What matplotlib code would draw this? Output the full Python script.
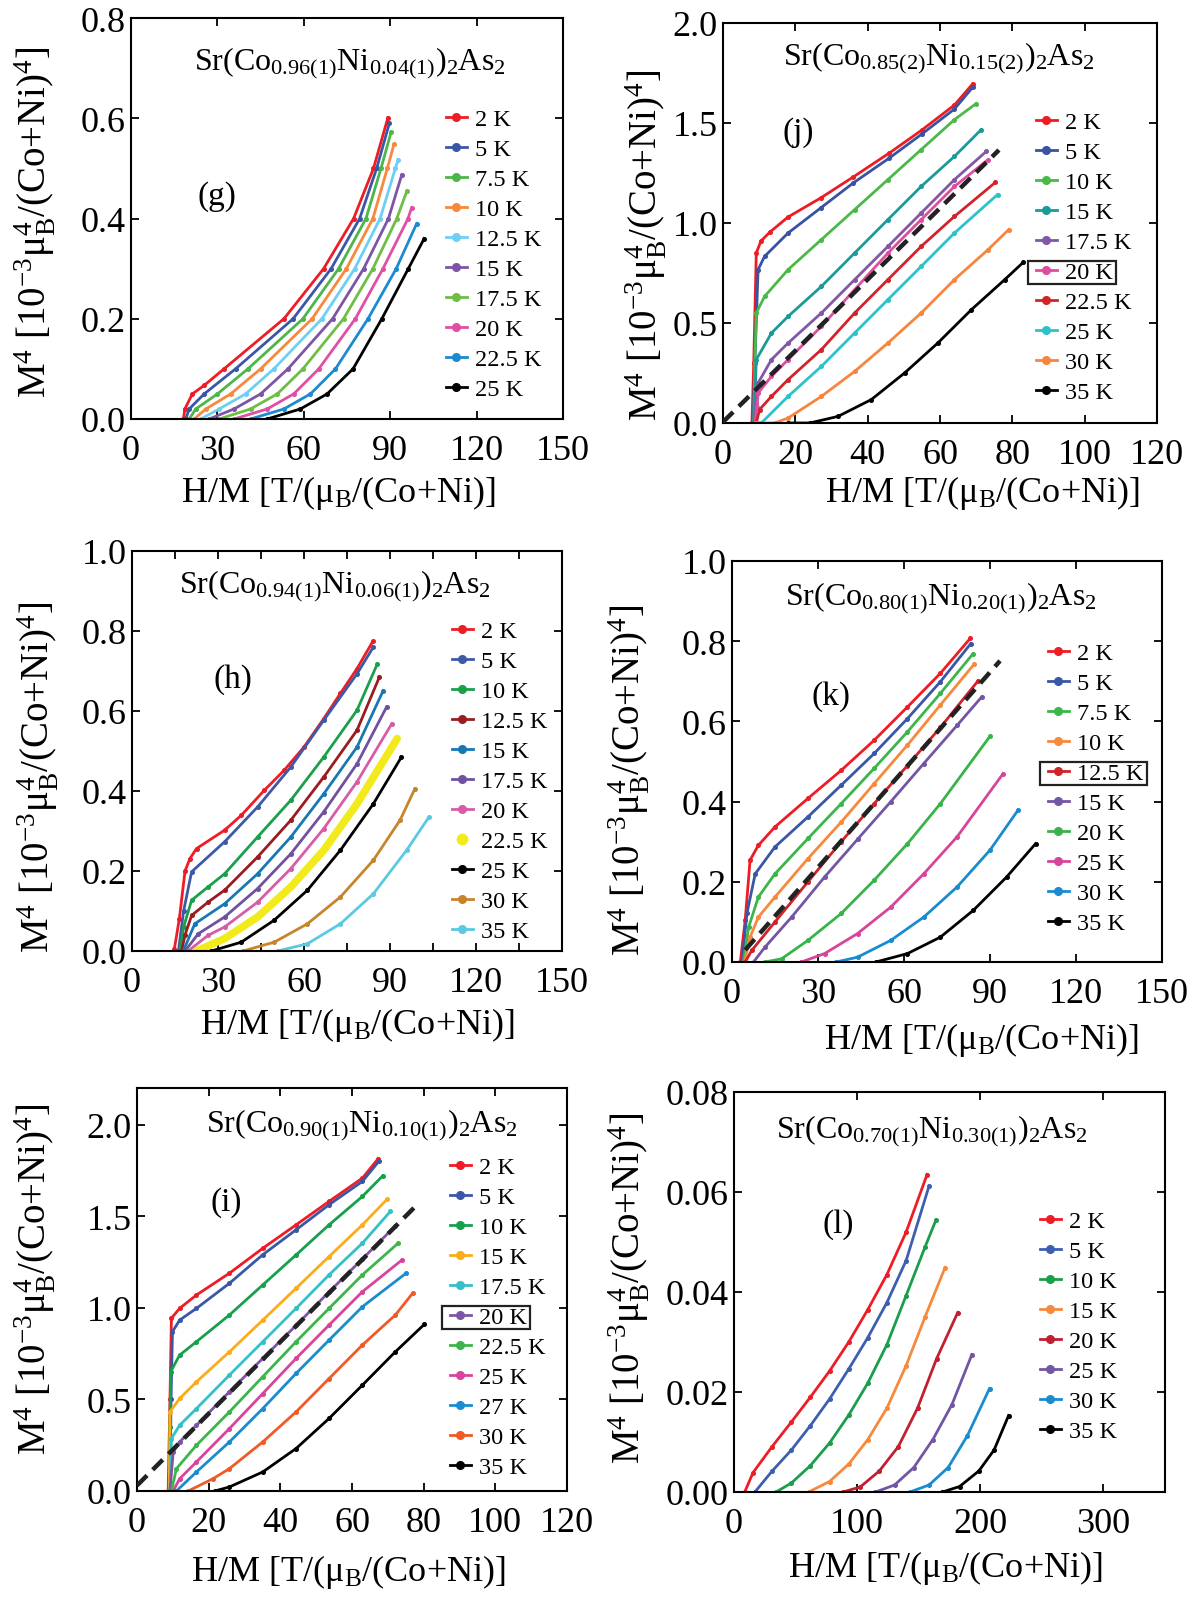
import matplotlib
matplotlib.use("Agg")
import matplotlib.pyplot as plt
from matplotlib.lines import Line2D
from matplotlib.patches import Rectangle
from matplotlib.ticker import MultipleLocator

plt.rcParams.update({
    "font.family": "Liberation Serif",
    "mathtext.fontset": "custom",
    "mathtext.rm": "Liberation Serif",
    "mathtext.it": "Liberation Serif:italic",
    "mathtext.bf": "Liberation Serif:bold",
})

# ---------------- data ----------------
# (g) x = 0.04
g_labels = ["2 K", "5 K", "7.5 K", "10 K", "12.5 K", "15 K", "17.5 K", "20 K", "22.5 K", "25 K"]
g_colors = ["#ee1c25", "#3a57a7", "#4cb648", "#f6893c", "#6dcff6", "#7d55a5",
            "#6ebe45", "#e14fa4", "#1b8ad0", "#000000"]
g_x = [[18.2, 18.7, 21.3, 25.4, 32.3, 53.1, 66.9, 77.3, 84.2, 89.2],
       [19.0, 20.2, 25.4, 36.3, 56.3, 69.5, 79.4, 85.3, 89.7],
       [20.2, 22.5, 30.0, 40.6, 59.7, 72.1, 81.6, 86.8, 90.3],
       [21.9, 26.0, 34.6, 45.0, 62.9, 74.8, 84.0, 89.0, 91.3],
       [24.2, 30.6, 39.8, 49.6, 66.3, 77.7, 86.5, 91.8, 92.7],
       [27.1, 35.8, 45.0, 54.5, 70.0, 80.8, 89.4, 94.0],
       [30.6, 41.5, 50.8, 59.7, 73.8, 84.0, 92.3, 95.8],
       [35.8, 47.3, 56.5, 65.2, 77.9, 87.5, 96.2, 97.4],
       [41.5, 53.1, 62.3, 71.0, 82.3, 92.1, 99.2],
       [47.3, 58.8, 68.1, 77.1, 87.1, 96.3, 101.8]]
g_y = [[0, .02, .05, .067, .1, .2, .3, .4, .5, .601],
       [0, .02, .05, .1, .2, .3, .4, .5, .59],
       [0, .02, .05, .1, .2, .3, .4, .5, .572],
       [0, .02, .05, .1, .2, .3, .4, .5, .548],
       [0, .02, .05, .1, .2, .3, .4, .5, .517],
       [0, .02, .05, .1, .2, .3, .4, .487],
       [0, .02, .05, .1, .2, .3, .4, .455],
       [0, .02, .05, .1, .2, .3, .4, .421],
       [0, .02, .05, .1, .2, .3, .39],
       [0, .02, .05, .1, .2, .3, .36]]

# (j) x = 0.15
j_labels = ["2 K", "5 K", "10 K", "15 K", "17.5 K", "20 K", "22.5 K", "25 K", "30 K", "35 K"]
j_colors = ["#ed1c24", "#3852a4", "#4ab948", "#1a9a99", "#8058a5", "#dd4ea0",
            "#d2232a", "#2dc1c9", "#f6853e", "#000000"]
j_x = [[8.0, 8.5, 9.2, 10.5, 13.0, 18.0, 27.0, 36.0, 46.0, 55.0, 64.0, 69.0],
       [8.3, 8.8, 9.7, 11.5, 18.0, 27.0, 36.0, 46.0, 55.0, 64.0, 69.1],
       [8.5, 8.8, 9.2, 11.5, 18.0, 27.2, 36.4, 45.6, 54.8, 64.0, 70.0],
       [8.6, 8.9, 9.2, 13.4, 18.0, 27.2, 36.4, 45.6, 54.8, 64.0, 71.4],
       [8.7, 9.2, 9.7, 13.4, 18.0, 27.2, 36.4, 45.6, 54.8, 64.0, 72.8],
       [8.8, 9.4, 9.7, 13.4, 18.0, 27.2, 36.4, 45.6, 54.8, 64.0, 73.3],
       [9.2, 10.1, 13.4, 18.0, 27.2, 36.4, 45.6, 54.8, 64.0, 75.3],
       [9.5, 10.6, 18.0, 27.2, 36.4, 45.6, 54.8, 64.0, 75.9],
       [9.0, 14.3, 18.0, 27.2, 36.4, 45.6, 54.8, 64.0, 73.3, 79.0],
       [18.0, 24.0, 31.8, 41.0, 50.2, 59.4, 68.7, 77.9, 83.0]]
j_y = [[0, 0.3, 0.85, 0.91, 0.955, 1.03, 1.125, 1.23, 1.35, 1.465, 1.59, 1.695],
       [0, 0.3, 0.767, 0.833, 0.95, 1.075, 1.2, 1.325, 1.445, 1.57, 1.68],
       [0, 0.3, 0.55, 0.633, 0.767, 0.917, 1.067, 1.217, 1.367, 1.517, 1.597],
       [0, 0.15, 0.317, 0.45, 0.533, 0.683, 0.85, 1.017, 1.183, 1.333, 1.467],
       [0, 0.1, 0.2, 0.317, 0.4, 0.55, 0.717, 0.883, 1.05, 1.217, 1.358],
       [0, 0.08, 0.15, 0.233, 0.317, 0.483, 0.667, 0.85, 1.017, 1.183, 1.317],
       [0, 0.067, 0.133, 0.217, 0.367, 0.55, 0.717, 0.883, 1.033, 1.203],
       [0, 0.0, 0.133, 0.283, 0.45, 0.617, 0.783, 0.95, 1.142],
       [0, 0, 0.025, 0.133, 0.258, 0.4, 0.55, 0.717, 0.867, 0.967],
       [0, 0, 0.033, 0.117, 0.25, 0.4, 0.567, 0.717, 0.803]]
j_dash_x = [0.0, 76.3]
j_dash_y = [0.005, 1.365]

# (h) x = 0.06
h_labels = ["2 K", "5 K", "10 K", "12.5 K", "15 K", "17.5 K", "20 K", "22.5 K", "25 K", "30 K", "35 K"]
h_colors = ["#ee1c25", "#3d5aa8", "#1aa04a", "#9b1c20", "#1778b4", "#6f51a1",
            "#d75ca6", "#f2ea1a", "#000000", "#c7852b", "#5bc9e0"]
h_x = [[14.8, 16.5, 18.5, 20.2, 22.5, 32.3, 38.1, 46.2, 53.1, 60.0, 66.9, 72.7, 78.5, 84.0],
       [16.2, 18.0, 20.8, 32.3, 43.8, 55.4, 66.9, 78.5, 84.2],
       [16.7, 18.0, 20.8, 26.5, 32.3, 43.8, 55.4, 66.9, 78.5, 85.6],
       [17.3, 18.5, 20.8, 26.5, 32.3, 43.8, 55.4, 66.9, 78.5, 86.3],
       [17.9, 21.9, 32.3, 43.8, 55.4, 66.9, 78.5, 87.5],
       [18.5, 23.1, 32.3, 43.8, 55.4, 66.9, 78.5, 88.8],
       [19.6, 26.5, 32.3, 43.8, 55.4, 66.9, 78.5, 90.6],
       [22.5, 32.3, 43.8, 55.4, 66.9, 78.5, 92.5],
       [27.7, 38.1, 49.6, 61.2, 72.7, 84.2, 94.0],
       [38.7, 49.6, 61.2, 72.7, 84.2, 93.5, 98.7],
       [50.8, 61.2, 72.7, 84.2, 95.8, 103.6]]
h_y = [[0.006, 0.08, 0.2, 0.231, 0.256, 0.302, 0.339, 0.402, 0.452, 0.51, 0.581, 0.644, 0.706, 0.774],
       [0, 0.1, 0.198, 0.273, 0.36, 0.46, 0.577, 0.693, 0.76],
       [0, 0.06, 0.127, 0.16, 0.193, 0.285, 0.377, 0.485, 0.602, 0.718],
       [0, 0.04, 0.089, 0.122, 0.152, 0.235, 0.327, 0.435, 0.552, 0.685],
       [0, 0.068, 0.118, 0.193, 0.285, 0.393, 0.51, 0.649],
       [0, 0.043, 0.085, 0.156, 0.243, 0.348, 0.468, 0.61],
       [0, 0.039, 0.06, 0.122, 0.206, 0.306, 0.423, 0.568],
       [0, 0.031, 0.085, 0.16, 0.252, 0.368, 0.531],
       [0, 0.022, 0.077, 0.152, 0.252, 0.368, 0.485],
       [0, 0.022, 0.068, 0.135, 0.227, 0.327, 0.406],
       [0, 0.018, 0.068, 0.143, 0.252, 0.335]]

# (k) x = 0.20
k_labels = ["2 K", "5 K", "7.5 K", "10 K", "12.5 K", "15 K", "20 K", "25 K", "30 K", "35 K"]
k_colors = ["#ee1c25", "#3a57a7", "#3cb54a", "#f6893c", "#d12229", "#7256a4",
            "#38b349", "#d9449b", "#1a8bd0", "#000000"]
k_x = [[2.9, 4.6, 6.3, 9.2, 15.0, 26.5, 38.1, 49.6, 61.2, 72.7, 83.1],
       [3.5, 5.2, 8.1, 15.0, 26.5, 38.1, 49.6, 61.2, 72.7, 83.3],
       [4.0, 5.8, 9.2, 15.0, 26.5, 38.1, 49.6, 61.2, 72.7, 84.0],
       [4.4, 6.3, 9.2, 15.0, 26.5, 38.1, 49.6, 61.2, 72.7, 84.5],
       [4.6, 6.9, 15.0, 26.5, 38.1, 49.6, 61.2, 72.7, 85.7],
       [7.5, 11.5, 20.8, 32.3, 43.8, 55.4, 66.9, 78.5, 87.1],
       [11.5, 17.3, 26.5, 38.1, 49.6, 61.2, 72.7, 90.0],
       [24.2, 32.3, 43.8, 55.4, 66.9, 78.5, 94.6],
       [36.3, 43.8, 55.4, 66.9, 78.5, 90.0, 99.8],
       [50.2, 61.2, 72.7, 84.2, 95.8, 105.9]]
k_y = [[0, 0.104, 0.254, 0.291, 0.337, 0.408, 0.478, 0.553, 0.636, 0.72, 0.807],
       [0, 0.121, 0.22, 0.287, 0.362, 0.441, 0.52, 0.607, 0.699, 0.794],
       [0, 0.087, 0.162, 0.22, 0.308, 0.395, 0.483, 0.574, 0.67, 0.768],
       [0, 0.062, 0.112, 0.162, 0.258, 0.349, 0.445, 0.541, 0.641, 0.743],
       [0, 0.029, 0.10, 0.2, 0.3, 0.395, 0.49, 0.585, 0.70],
       [0, 0.037, 0.112, 0.212, 0.306, 0.40, 0.495, 0.59, 0.661],
       [0, 0.008, 0.054, 0.121, 0.204, 0.295, 0.395, 0.563],
       [0, 0.021, 0.071, 0.137, 0.22, 0.312, 0.47],
       [0, 0.012, 0.054, 0.112, 0.187, 0.279, 0.379],
       [0, 0.021, 0.062, 0.129, 0.212, 0.295]]
k_dash_x = [4.6, 93.5]
k_dash_y = [0.03, 0.751]

# (i) x = 0.10
i_labels = ["2 K", "5 K", "10 K", "15 K", "17.5 K", "20 K", "22.5 K", "25 K", "27 K", "30 K", "35 K"]
i_colors = ["#ee1c25", "#3a57a7", "#17a04b", "#fbac1a", "#33c0c9", "#7c55a5",
            "#3cb54a", "#d9449b", "#1a8bd0", "#f15a25", "#000000"]
i_x = [[8.7, 9.2, 9.6, 11.9, 16.6, 25.8, 35.1, 44.4, 53.6, 62.9, 67.3],
       [9.2, 9.5, 9.9, 11.9, 16.6, 25.8, 35.1, 44.4, 53.6, 62.9, 67.5],
       [9.0, 9.2, 9.4, 11.9, 16.6, 25.8, 35.1, 44.4, 53.6, 62.9, 68.6],
       [9.0, 9.2, 11.9, 16.6, 25.8, 35.1, 44.4, 53.6, 62.9, 69.8],
       [9.2, 9.6, 11.9, 16.6, 25.8, 35.1, 44.4, 53.6, 62.9, 70.7],
       [9.2, 10.1, 11.9, 16.6, 25.8, 35.1, 44.4, 53.6, 62.9, 72.1],
       [9.6, 11.0, 16.6, 25.8, 35.1, 44.4, 53.6, 62.9, 72.9],
       [10.1, 11.9, 16.6, 25.8, 35.1, 44.4, 53.6, 62.9, 74.0],
       [11.0, 16.6, 25.8, 35.1, 44.4, 53.6, 62.9, 75.1],
       [14.3, 21.2, 25.8, 35.1, 44.4, 53.6, 62.9, 72.1, 76.9],
       [21.7, 25.8, 35.1, 44.4, 53.6, 62.9, 72.1, 80.2]]
i_y = [[0, 0.5, 0.943, 0.997, 1.07, 1.189, 1.325, 1.453, 1.581, 1.708, 1.814],
       [0, 0.5, 0.87, 0.933, 0.997, 1.134, 1.29, 1.426, 1.563, 1.69, 1.8],
       [0, 0.35, 0.651, 0.742, 0.815, 0.961, 1.125, 1.289, 1.453, 1.608, 1.721],
       [0, 0.432, 0.505, 0.596, 0.76, 0.933, 1.107, 1.28, 1.453, 1.593],
       [0, 0.286, 0.359, 0.45, 0.633, 0.815, 0.997, 1.18, 1.353, 1.526],
       [0, 0.213, 0.268, 0.359, 0.542, 0.724, 0.904, 1.087, 1.267, 1.447],
       [0, 0.122, 0.25, 0.432, 0.624, 0.815, 0.997, 1.18, 1.353],
       [0, 0.067, 0.159, 0.341, 0.532, 0.724, 0.906, 1.088, 1.262],
       [0, 0.104, 0.268, 0.45, 0.642, 0.824, 1.006, 1.189],
       [0, 0.067, 0.122, 0.268, 0.432, 0.614, 0.797, 0.961, 1.079],
       [0, 0.022, 0.104, 0.232, 0.396, 0.578, 0.76, 0.91]]
i_dash_x = [0.0, 77.3]
i_dash_y = [0.03, 1.546]

# (l) x = 0.30
l_labels = ["2 K", "5 K", "10 K", "15 K", "20 K", "25 K", "30 K", "35 K"]
l_colors = ["#ee1c25", "#3e5fb0", "#1a9e4b", "#f6893c", "#c21f2f", "#7256a4",
            "#1a8bd0", "#000000"]
l_x = [[8.7, 15.5, 31.0, 46.6, 62.1, 77.6, 93.2, 108.7, 124.2, 139.8, 156.8],
       [17.0, 31.0, 46.6, 62.1, 77.6, 93.2, 108.7, 124.2, 139.8, 158.4],
       [34.2, 46.6, 62.1, 77.6, 93.2, 108.7, 124.2, 139.8, 155.3, 164.0],
       [60.6, 77.6, 93.2, 108.7, 124.2, 139.8, 155.3, 171.4],
       [88.5, 102.5, 118.0, 133.5, 149.1, 164.6, 181.7],
       [114.9, 130.4, 146.0, 161.5, 177.0, 193.2],
       [142.9, 158.4, 173.9, 189.4, 207.5],
       [169.3, 183.2, 198.8, 211.2, 223.0]]
l_y = [[0, 0.0039, 0.0091, 0.014, 0.019, 0.0242, 0.030, 0.0365, 0.0435, 0.052, 0.0635],
       [0, 0.0042, 0.0084, 0.0133, 0.0186, 0.0246, 0.0309, 0.0379, 0.0463, 0.0612],
       [0, 0.0018, 0.0053, 0.0098, 0.0154, 0.0218, 0.0295, 0.0393, 0.0491, 0.0544],
       [0, 0.0021, 0.0056, 0.0105, 0.0168, 0.0253, 0.0351, 0.0449],
       [0, 0.001, 0.0042, 0.0091, 0.0168, 0.0267, 0.0359],
       [0, 0.0014, 0.0049, 0.0105, 0.0175, 0.0275],
       [0, 0.0014, 0.0049, 0.0112, 0.0207],
       [0, 0.0011, 0.0042, 0.0084, 0.0153]]

XLABEL = "H/M [T/(μ$_{\\mathrm{B}}$/(Co+Ni)]"
YLABEL = "M$^{4}$ [10$^{-3}$μ$_{\\mathrm{B}}^{4}$/(Co+Ni)$^{4}$]"

def formula(co, ni):
    return "Sr(Co$_{%s}$Ni$_{%s}$)$_{2}$As$_{2}$" % (co, ni)

# ---------------- layout ----------------
W, H = 1199, 1608
fig = plt.figure(figsize=(W / 100, H / 100), dpi=100)


def frac(rect, px, py):
    l, t, r, b = rect
    return (px - l) / (r - l), (b - py) / (b - t)


boxes = []


def panel(rect, xs, ys, labels, colors, xlim, ylim, xstep, ystep, title,
          title_pos, tag, tag_pos, leg_pos, xlab_pos, ylab_pos,
          dash=None, boxed=None, xminor=None, thick=None):
    l, t, r, b = rect
    ax = fig.add_axes([l / W, 1 - b / H, (r - l) / W, (b - t) / H])
    handles = []
    for n, (x, y, lab, c) in enumerate(zip(xs, ys, labels, colors)):
        if thick is not None and n == thick:
            ax.plot(x, y, color=c, lw=5.5, solid_capstyle="round", zorder=2)
            handles.append(Line2D([], [], ls="none", marker="o", ms=7.5, color=c))
        else:
            ln, = ax.plot(x, y, color=c, lw=2.0, marker="o", ms=2.6, zorder=2)
            handles.append(ln)
    if dash is not None:
        ax.plot(dash[0], dash[1], color="#222222", lw=3.2, dashes=(3.2, 1.8), zorder=3)
    ax.set_xlim(*xlim)
    ax.set_ylim(*ylim)
    ax.xaxis.set_major_locator(MultipleLocator(xstep))
    ax.yaxis.set_major_locator(MultipleLocator(ystep))
    if xminor:
        ax.xaxis.set_minor_locator(MultipleLocator(xminor))
        ax.tick_params(axis="x", which="minor", direction="in", top=True,
                       bottom=True, length=6, width=1.3)
    ax.tick_params(which="major", direction="in", top=True, right=True,
                   length=6, width=1.3, labelsize=26)
    ax.tick_params(axis="x", pad=11)
    ax.tick_params(axis="y", pad=4)
    for s in ax.spines.values():
        s.set_linewidth(1.5)

    tx, ty = frac(rect, *title_pos)
    ax.text(tx, ty, title, transform=ax.transAxes, ha="center", va="baseline",
            fontsize=23)
    gx, gy = frac(rect, *tag_pos)
    ax.text(gx, gy, tag, transform=ax.transAxes, ha="center", va="center",
            fontsize=24)

    lx, ly = frac(rect, leg_pos[0], leg_pos[1] - 12)
    leg = ax.legend(handles, labels, loc="upper left", bbox_to_anchor=(lx, ly),
                    frameon=False, fontsize=17.5, borderpad=0, borderaxespad=0,
                    handlelength=0.85, handletextpad=0.35, labelspacing=0.33)
    for hnd in leg.legend_handles:
        if hnd.get_linestyle() != "None":
            hnd.set_markersize(5.5)

    ax.set_xlabel(XLABEL, fontsize=26)
    ax.set_ylabel(YLABEL, fontsize=28)
    xx, xy = frac(rect, *xlab_pos)
    ax.xaxis.set_label_coords(xx, xy)
    ax.xaxis.label.set_va("center")
    yx, yy = frac(rect, *ylab_pos)
    ax.yaxis.set_label_coords(yx, yy)
    ax.yaxis.label.set_va("center")
    if boxed is not None:
        boxes.append((leg, boxed))
    return ax


panel((131, 19, 563, 420), g_x, g_y, g_labels, g_colors, (0, 150), (0, 0.8), 30, 0.2,
      formula("0.96(1)", "0.04(1)"), (350, 70), "(g)", (217, 197), (446, 121),
      (338, 493), (35, 222))
panel((723, 24, 1157, 424), j_x, j_y, j_labels, j_colors, (0, 120), (0, 2.0), 20, 0.5,
      formula("0.85(2)", "0.15(2)"), (939, 65), "(j)", (798, 133), (1036, 124),
      (982, 493), (646, 245), dash=(j_dash_x, j_dash_y), boxed=5)
panel((132, 552, 562, 952), h_x, h_y, h_labels, h_colors, (0, 150), (0, 1.0), 30, 0.2,
      formula("0.94(1)", "0.06(1)"), (335, 593), "(h)", (233, 680), (452, 633),
      (357, 1025), (38, 777), xminor=15, thick=7)
panel((732, 562, 1162, 963), k_x, k_y, k_labels, k_colors, (0, 150), (0, 1.0), 30, 0.2,
      formula("0.80(1)", "0.20(1)"), (941, 605), "(k)", (831, 697), (1048, 655),
      (981, 1040), (629, 780), dash=(k_dash_x, k_dash_y), boxed=4)
panel((137, 1089, 567, 1492), i_x, i_y, i_labels, i_colors, (0, 120), (0, 2.2), 20, 0.5,
      formula("0.90(1)", "0.10(1)"), (362, 1132), "(i)", (226, 1203), (450, 1169),
      (348, 1572), (35, 1279), dash=(i_dash_x, i_dash_y), boxed=5)
panel((734, 1093, 1165, 1493), l_x, l_y, l_labels, l_colors, (0, 350), (0, 0.08), 100, 0.02,
      formula("0.70(1)", "0.30(1)"), (932, 1138), "(l)", (838, 1225), (1040, 1223),
      (945, 1568), (629, 1288))

# boxes round the highlighted legend entries
fig.canvas.draw()
renderer = fig.canvas.get_renderer()
for leg, idx in boxes:
    tb = leg.get_texts()[idx].get_window_extent(renderer)
    hb = leg.legend_handles[idx].get_window_extent(renderer)
    x0 = min(tb.x0, hb.x0) - 4
    x1 = tb.x1 + 3
    y0 = tb.y0 - 1
    y1 = tb.y1 + 1
    fig.add_artist(Rectangle((x0 / W, y0 / H), (x1 - x0) / W, (y1 - y0) / H,
                             transform=fig.transFigure, fill=False,
                             lw=1.6, ec="#222222"))

fig.savefig("out.png", dpi=100)
